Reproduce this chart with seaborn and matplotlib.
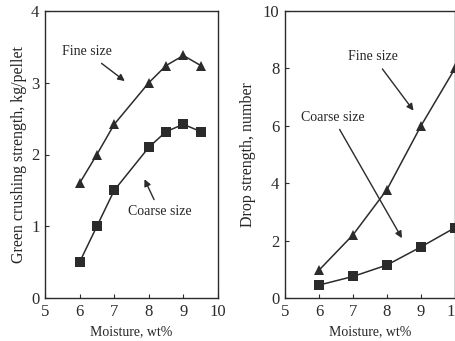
import pandas as pd
import matplotlib
matplotlib.use("Agg")
import matplotlib.pyplot as plt
import seaborn as sns

# Data
moist_left = [6, 6.5, 7, 8, 8.5, 9, 9.5]
fine_crush = [1.6, 2.0, 2.42, 3.0, 3.24, 3.38, 3.24]
coarse_crush = [0.5, 1.0, 1.5, 2.1, 2.32, 2.42, 2.32]

moist_right = [6, 7, 8, 9, 10]
fine_drop = [0.97, 2.2, 3.78, 6.0, 8.0]
coarse_drop = [0.45, 0.75, 1.15, 1.78, 2.45]

sns.set_style("ticks")
plt.rcParams["font.family"] = ["Liberation Serif", "DejaVu Serif"]

ink = "#2b2b2b"
fig = plt.figure(figsize=(4.56, 3.41), dpi=100)
ax1 = fig.add_axes([45 / 456, 43 / 341, 173 / 456, 287 / 341])
ax2 = fig.add_axes([285 / 456, 43 / 341, 170 / 456, 287 / 341])

# Left panel: green crushing strength
sns.lineplot(x=moist_left, y=fine_crush, ax=ax1, color=ink, lw=1.1,
             marker="^", markersize=7, markeredgewidth=0, markerfacecolor=ink)
sns.lineplot(x=moist_left, y=coarse_crush, ax=ax1, color=ink, lw=1.1,
             marker="s", markersize=6.5, markeredgewidth=0, markerfacecolor=ink)
ax1.set_xlim(5, 10)
ax1.set_ylim(0, 4)
ax1.set_xticks([5, 6, 7, 8, 9, 10])
ax1.set_yticks([0, 1, 2, 3, 4])
ax1.set_xlabel("Moisture, wt%", fontsize=10, labelpad=4)
ax1.set_ylabel("Green crushing strength, kg/pellet", fontsize=11.5, labelpad=3)

arrow = dict(arrowstyle="-|>", color=ink, lw=1.0, mutation_scale=10)
ax1.annotate("Fine size", xy=(7.37, 3.0), xytext=(6.2, 3.43), fontsize=10,
             ha="center", va="center", arrowprops=arrow)
ax1.annotate("Coarse size", xy=(7.84, 1.69), xytext=(8.32, 1.2), fontsize=10,
             ha="center", va="center", arrowprops=arrow)

# Right panel: drop strength
sns.lineplot(x=moist_right, y=fine_drop, ax=ax2, color=ink, lw=1.1,
             marker="^", markersize=7, markeredgewidth=0, markerfacecolor=ink)
sns.lineplot(x=moist_right, y=coarse_drop, ax=ax2, color=ink, lw=1.1,
             marker="s", markersize=6.5, markeredgewidth=0, markerfacecolor=ink)
ax2.set_xlim(5, 10)
ax2.set_ylim(0, 10)
ax2.set_xticks([5, 6, 7, 8, 9, 10])
ax2.set_yticks([0, 2, 4, 6, 8, 10])
ax2.set_xlabel("Moisture, wt%", fontsize=10, labelpad=4)
ax2.set_ylabel("Drop strength, number", fontsize=11.5, labelpad=5)

ax2.annotate("Fine size", xy=(8.83, 6.45), xytext=(7.6, 8.4), fontsize=10,
             ha="center", va="center", arrowprops=arrow)
ax2.annotate("Coarse size", xy=(8.48, 2.0), xytext=(6.4, 6.3), fontsize=10,
             ha="center", va="center", arrowprops=arrow)

for ax in (ax1, ax2):
    for s in ax.spines.values():
        s.set_visible(True)
        s.set_color(ink)
        s.set_linewidth(1.0)
    ax.tick_params(direction="in", length=3, width=0.8, colors=ink,
                   labelsize=12, labelcolor=ink, pad=4)

fig.savefig("out.png", dpi=100)
